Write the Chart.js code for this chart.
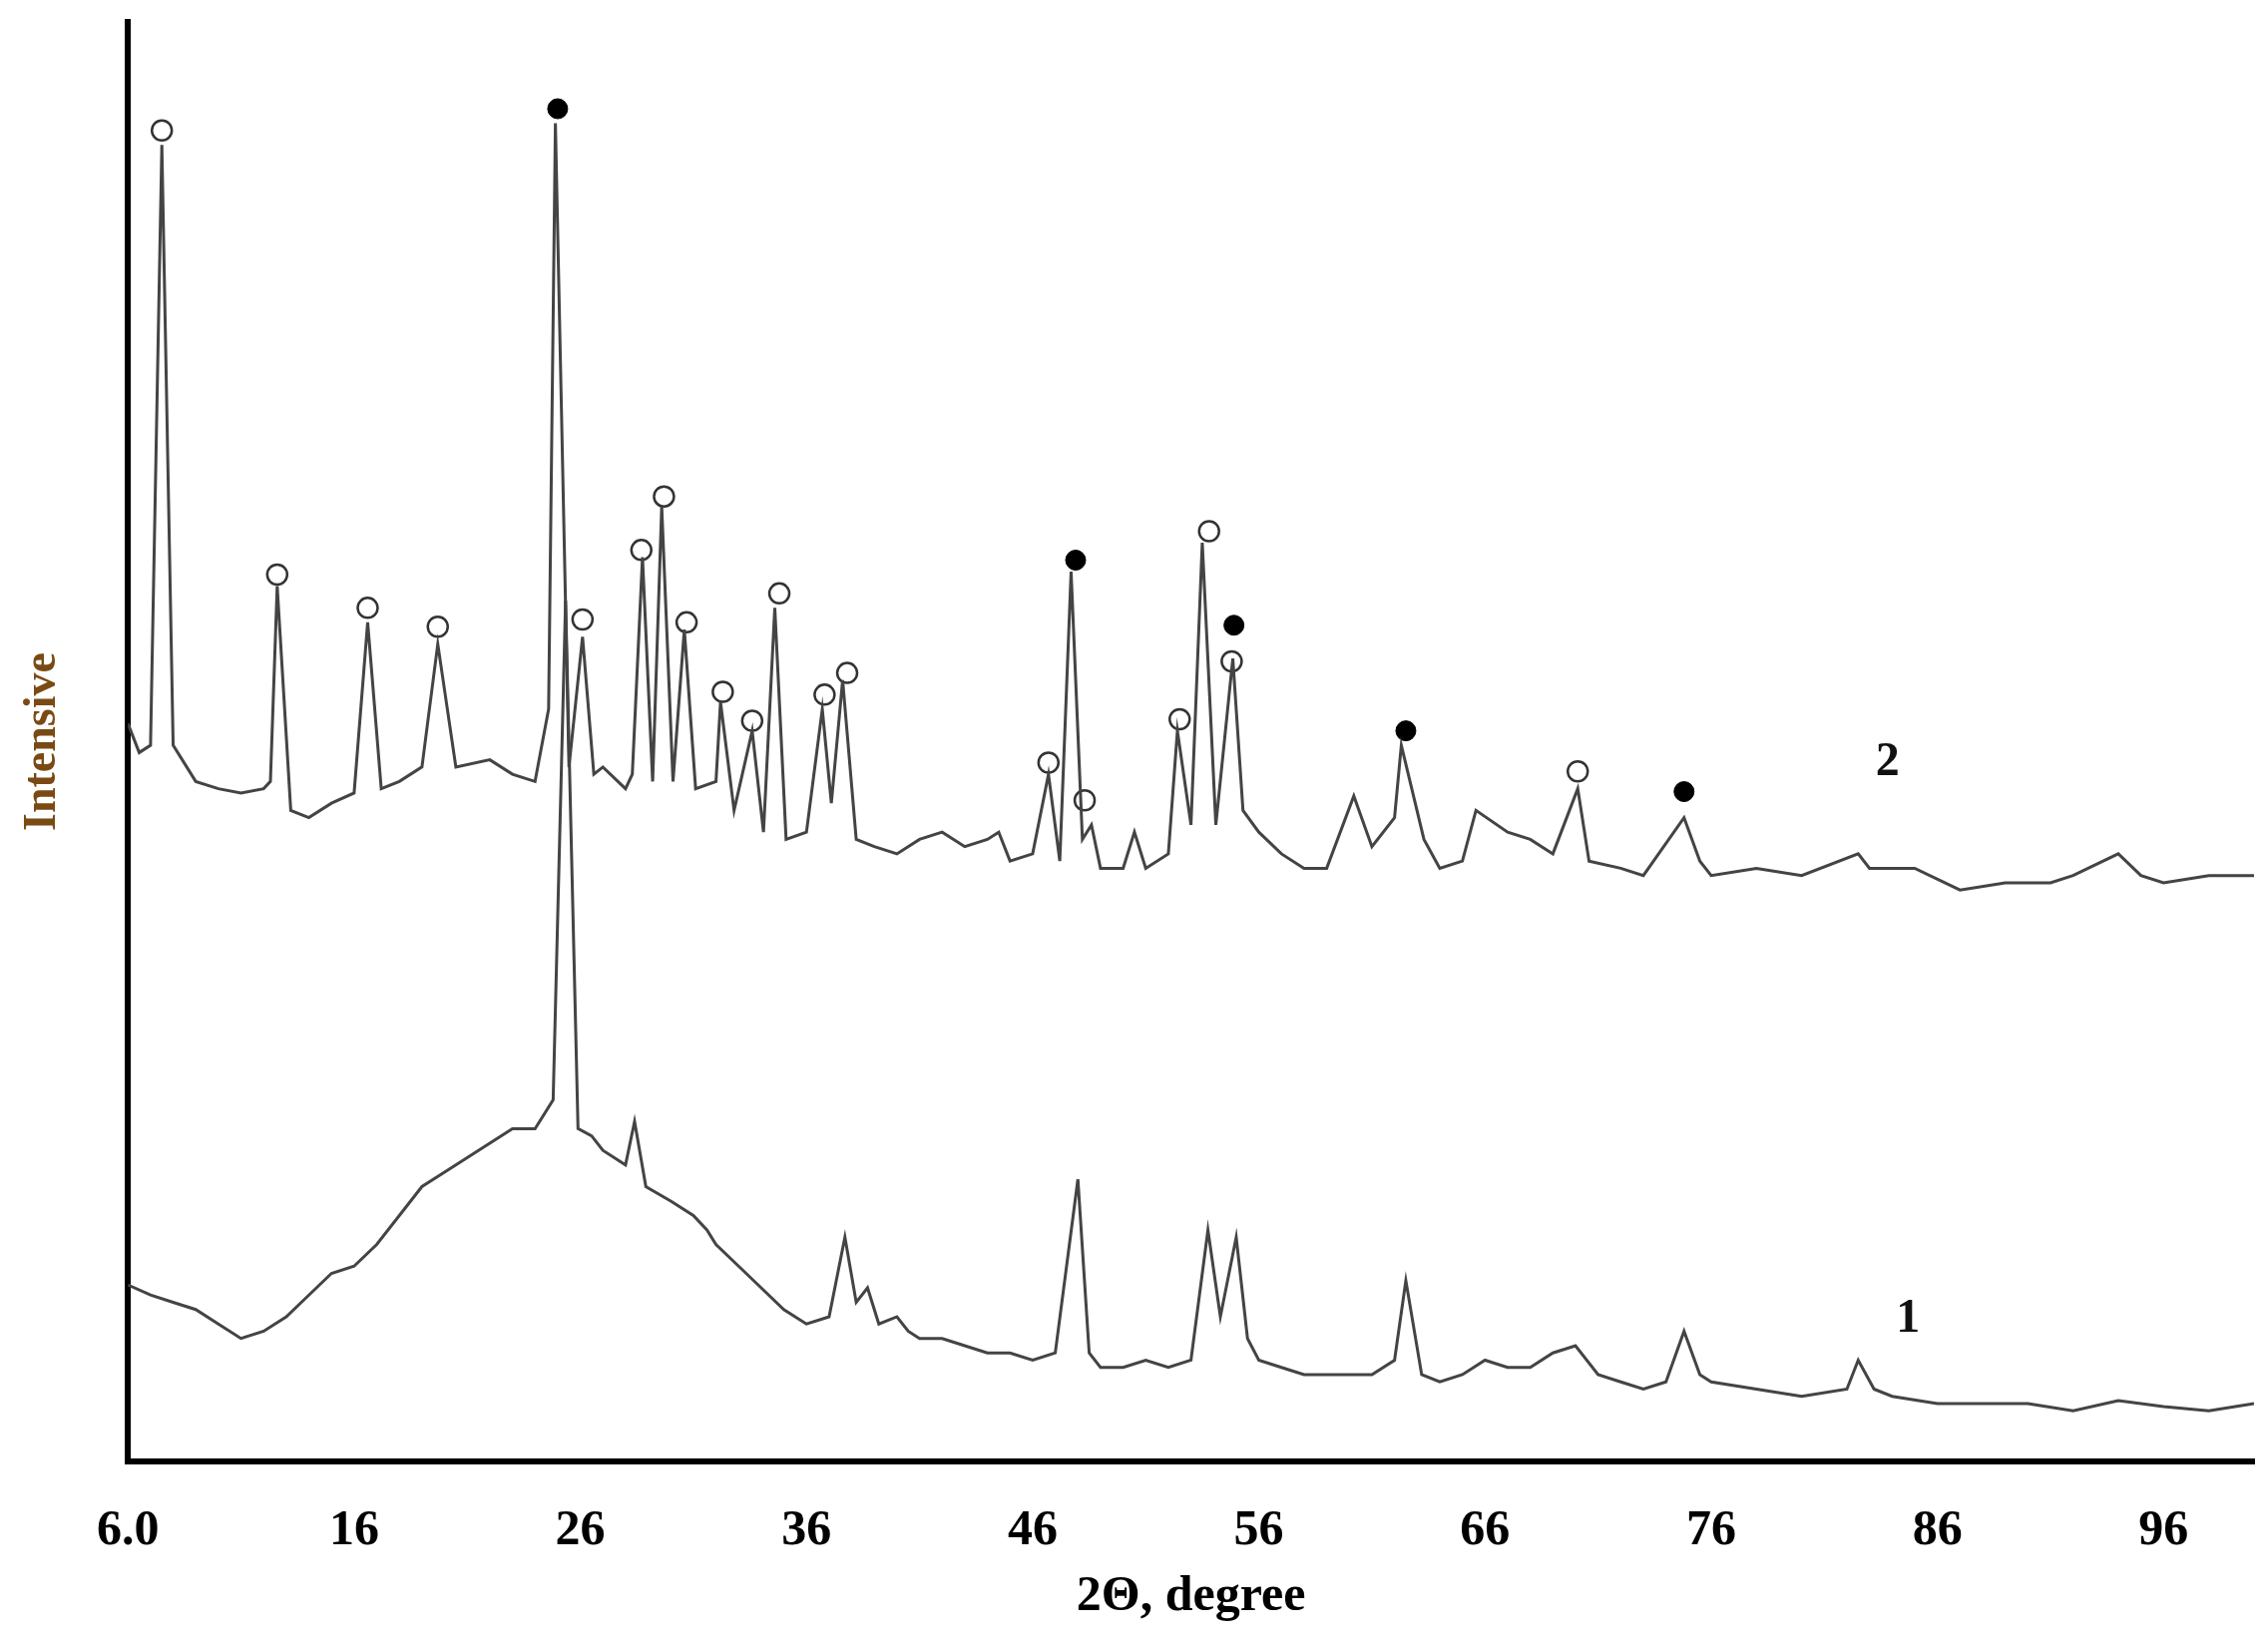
<!DOCTYPE html>
<html>
<head>
<meta charset="utf-8">
<script src="https://cdn.jsdelivr.net/npm/chart.js@4"></script>
<style>
  html, body { margin: 0; padding: 0; background: #fff; }
  #wrap { width: 2273px; height: 1648px; }
</style>
</head>
<body>
<div id="wrap"><canvas id="xrd"></canvas></div>
<script>
// 2-theta positions and intensities (arbitrary units)
const curve2X = [6,6.5,7,7.5,8,9,10,11,12,12.3,12.6,13.2,14,15,16,16.6,17.2,18,19,19.7,20.5,22,23,24,24.6,24.9,25.5,26.1,26.6,27,28,28.3,28.75,29.2,29.6,30.1,30.6,31.1,32,32.2,32.8,33.6,34.1,34.6,35.1,36,36.7,37.1,37.6,38.2,39,40,41,42,43,44,44.5,45,46,46.7,47.2,47.7,48.2,48.6,49,50,50.5,51,52,52.4,53,53.5,54.1,54.85,55.3,56,57,58,59,60.2,61,62,62.3,63.3,64,65,65.6,67,68,69,70.1,70.6,72,73,74.8,75.5,76,78,80,82.5,83,85,87,89,91,92,94,95,96,98,100];
const curve2Y = [510,490,495,910,495,470,465,462,465,470,605,450,445,455,462,580,465,470,480,565,480,485,475,470,520,925,480,570,475,480,465,475,625,470,660,470,575,465,470,525,450,505,435,590,430,435,520,455,540,430,425,420,430,435,425,430,435,415,420,475,415,615,430,440,410,410,435,410,420,505,440,635,440,555,450,435,420,410,410,460,425,445,495,430,410,415,450,435,430,420,465,415,410,405,445,415,405,410,405,420,410,410,395,400,400,405,420,405,400,405,405];

const curve1X = [6,7,8,9,10,11,12,13,14,15,16,17,18,19,20,21,22,23,24,24.8,25.35,25.9,26.5,27,28,28.4,28.9,30,31,31.6,32,33,34,35,36,37,37.7,38.2,38.7,39.2,40,40.5,41,42,43,44,45,46,47,48,48.5,49,50,51,52,53,53.75,54.3,55,55.5,56,57,58,59,60,61,62,62.5,63.2,64,65,66,67,68,69,70,71,72,73,74,74.8,75.5,76,78,80,82,82.5,83.2,84,86,88,90,92,94,96,98,100];
const curve1Y = [122,115,110,105,95,85,90,100,115,130,135,150,170,190,200,210,220,230,230,250,595,230,225,215,205,235,190,180,170,160,150,135,120,105,95,100,155,110,120,95,100,90,85,85,80,75,75,70,75,195,75,65,65,70,65,70,160,100,155,85,70,65,60,60,60,60,70,125,60,55,60,70,65,65,75,80,60,55,50,55,90,60,55,50,45,50,70,50,45,40,40,40,35,42,38,35,40];

// phase markers above the peaks
const openX = [7.5,12.6,16.6,19.7,26.1,28.7,29.7,30.7,32.3,33.6,34.8,36.8,37.8,46.7,48.3,52.5,53.8,54.8,70.1];
const openY = [920,613,590,577,582,630,667,580,532,512,600,530,545,483,457,513,643,553,477];
const filledX = [25,47.9,54.9,62.5,74.8];
const filledY = [935,623,578,505,463];

const xTicks = [6,16,26,36,46,56,66,76,86,96];
const curveLabels = [{x: 84.7, y: 98, text: '1'}, {x: 83.8, y: 483, text: '2'}];

const toPts = (xs, ys) => xs.map((x, i) => ({x: x, y: ys[i]}));

const labelPlugin = {
  id: 'curveLabels',
  afterDatasetsDraw(chart) {
    const ctx = chart.ctx;
    const sx = chart.scales.x, sy = chart.scales.y;
    ctx.save();
    ctx.font = 'bold 48px "Liberation Serif"';
    ctx.fillStyle = '#111';
    ctx.textAlign = 'center';
    ctx.textBaseline = 'middle';
    curveLabels.forEach(l => ctx.fillText(l.text, sx.getPixelForValue(l.x), sy.getPixelForValue(l.y)));
    ctx.restore();
  }
};

const lineStyle = {borderColor: '#444', borderWidth: 3, pointRadius: 0, tension: 0, fill: false};

new Chart(document.getElementById('xrd'), {
  type: 'line',
  data: {
    datasets: [
      Object.assign({data: toPts(curve2X, curve2Y)}, lineStyle),
      Object.assign({data: toPts(curve1X, curve1Y)}, lineStyle),
      {type: 'scatter', data: toPts(openX, openY), pointRadius: 10, pointBorderWidth: 2.5,
       pointBackgroundColor: '#fff', pointBorderColor: '#333'},
      {type: 'scatter', data: toPts(filledX, filledY), pointRadius: 10, pointBorderWidth: 1,
       pointBackgroundColor: '#000', pointBorderColor: '#000'}
    ]
  },
  options: {
    responsive: true,
    maintainAspectRatio: false,
    animation: false,
    layout: {padding: {left: 12, right: 14, top: 22, bottom: 13}},
    plugins: {legend: {display: false}, tooltip: {enabled: false}},
    scales: {
      x: {
        type: 'linear', min: 6, max: 100,
        afterBuildTicks: axis => { axis.ticks = xTicks.map(v => ({value: v})); },
        grid: {display: false, drawTicks: false},
        border: {display: true, color: '#000', width: 6},
        ticks: {
          padding: 40, color: '#000',
          font: {family: 'Liberation Serif', weight: 'bold', size: 50},
          callback: v => v === 6 ? '6.0' : String(v)
        },
        title: {display: true, text: '2Θ, degree', color: '#000', padding: {top: -34},
                font: {family: 'Liberation Serif', weight: 'bold', size: 50}}
      },
      y: {
        min: 0, max: 995,
        grid: {display: false, drawTicks: false},
        border: {display: true, color: '#000', width: 6},
        ticks: {display: false},
        title: {display: true, text: 'Intensive', color: '#7a4a14', padding: {bottom: 57},
                font: {family: 'Liberation Serif', weight: 'bold', size: 46}}
      }
    }
  },
  plugins: [labelPlugin]
});
</script>
</body>
</html>
